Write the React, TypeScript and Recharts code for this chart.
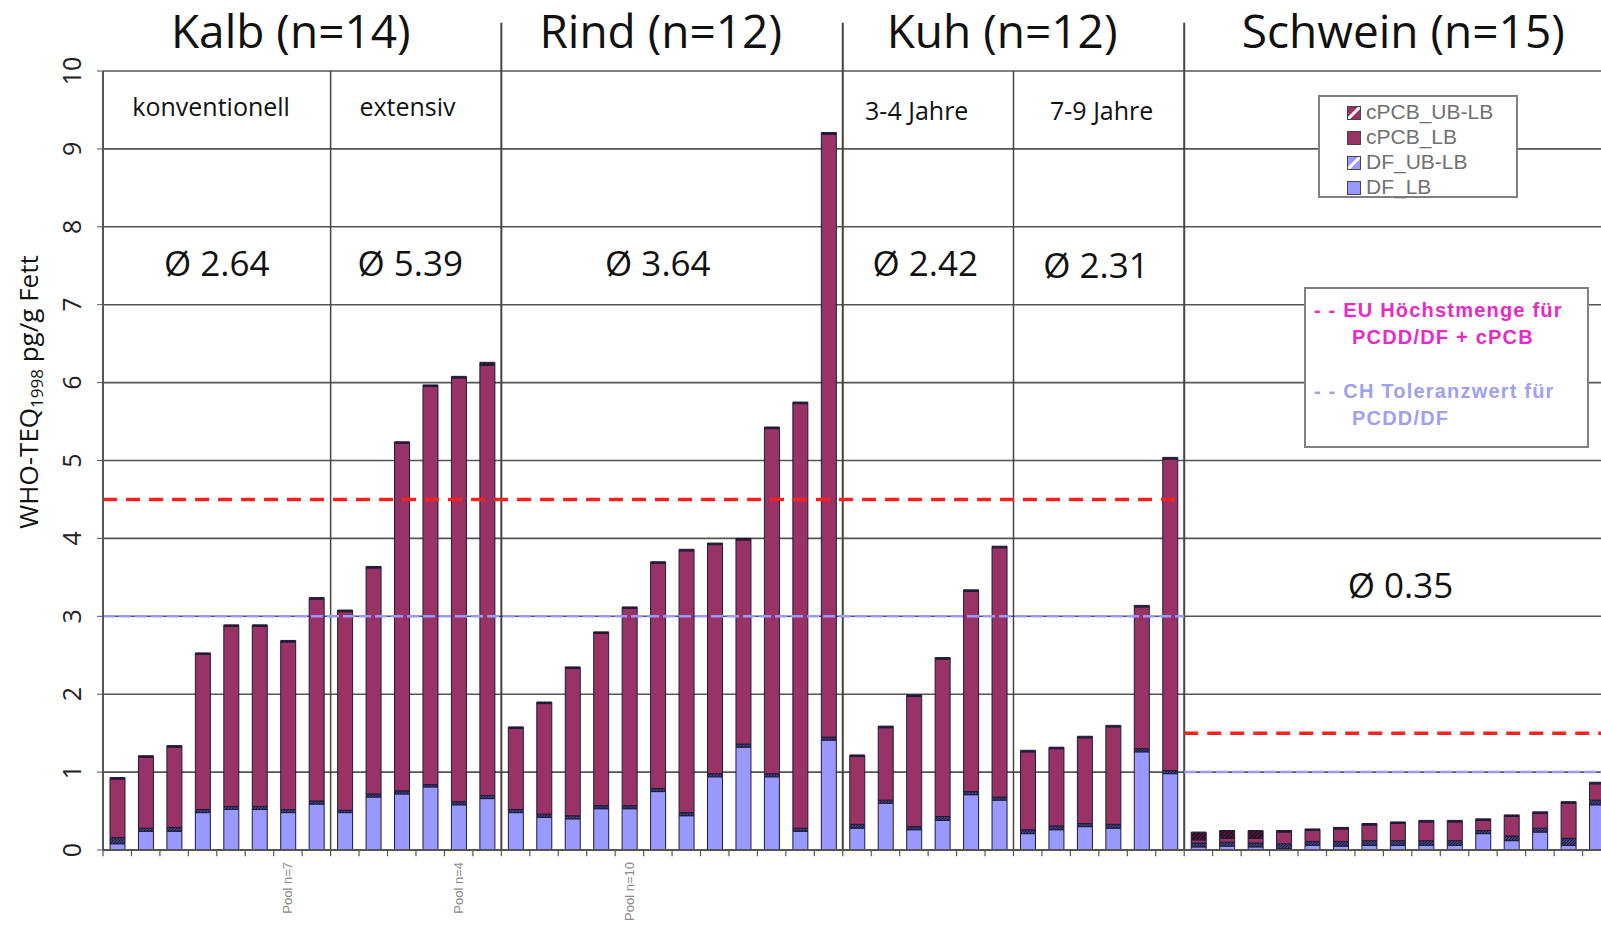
import {
  Bar,
  BarChart,
  CartesianGrid,
  ReferenceDot,
  ReferenceLine,
  XAxis,
  YAxis,
} from "recharts";

// values per sample (pg/g Fett), order: Kalb konv. (8), Kalb ext. (6), Rind (12), Kuh 3-4 J. (6), Kuh 7-9 J. (6), Schwein (15)
const dfLb = [
  0.08, 0.24, 0.24, 0.48, 0.52, 0.52, 0.48, 0.59,
  0.48, 0.68, 0.72, 0.81, 0.58, 0.66,
  0.48, 0.42, 0.4, 0.53, 0.53, 0.75, 0.44, 0.94, 1.32, 0.94, 0.24, 1.41,
  0.28, 0.6, 0.26, 0.38, 0.71, 0.64,
  0.21, 0.26, 0.3, 0.28, 1.26, 0.98,
  0.04, 0.05, 0.04, 0.02, 0.06, 0.05, 0.06, 0.06, 0.06, 0.06, 0.21, 0.12, 0.23, 0.06, 0.58,
];
const dfUb = [
  0.08, 0.04, 0.05, 0.04, 0.04, 0.04, 0.04, 0.04,
  0.03, 0.04, 0.04, 0.03, 0.04, 0.04,
  0.04, 0.04, 0.04, 0.04, 0.04, 0.04, 0.04, 0.04, 0.04, 0.04, 0.04, 0.04,
  0.05, 0.04, 0.04, 0.05, 0.04, 0.04,
  0.05, 0.05, 0.04, 0.05, 0.04, 0.04,
  0.05, 0.05, 0.05, 0.06, 0.05, 0.06, 0.06, 0.06, 0.06, 0.06, 0.04, 0.06, 0.05, 0.09, 0.06,
];
const pcbLb = [
  0.75, 0.91, 1.03, 1.99, 2.31, 2.31, 2.15, 2.59,
  2.55, 2.9, 4.46, 5.11, 5.44, 5.52,
  1.04, 1.42, 1.89, 2.21, 2.53, 2.89, 3.36, 2.94, 2.62, 4.43, 5.45, 7.74,
  0.87, 0.93, 1.67, 2.02, 2.57, 3.2,
  1.0, 0.99, 1.1, 1.25, 1.82, 4.0,
  0.04, 0.05, 0.06, 0.15, 0.14, 0.16, 0.2, 0.22, 0.24, 0.24, 0.13, 0.25, 0.19, 0.45, 0.21,
];
const pcbUb = [
  0.02, 0.02, 0.02, 0.02, 0.02, 0.02, 0.02, 0.02,
  0.02, 0.02, 0.02, 0.02, 0.02, 0.04,
  0.02, 0.02, 0.02, 0.02, 0.02, 0.02, 0.02, 0.02, 0.02, 0.02, 0.02, 0.02,
  0.02, 0.02, 0.02, 0.02, 0.02, 0.02,
  0.02, 0.02, 0.02, 0.02, 0.02, 0.02,
  0.1, 0.1, 0.1, 0.02, 0.02, 0.02, 0.02, 0.02, 0.02, 0.02, 0.02, 0.02, 0.02, 0.02, 0.02,
];

const yTicks = [0, 1, 2, 3, 4, 5, 6, 7, 8, 9, 10];

// pooled samples (1-based sample number) and their axis labels
const poolAt = ["7", "13", "19"];
const poolText = ["Pool n=7", "Pool n=4", "Pool n=10"];

// dividers: drawn at the end of these samples
const groupEnds = ["14", "26", "38"];
const subEnds = ["8", "32"];
// limit lines: beef (samples 1-38) and pork (39-53)
const limitFrom = ["1", "38"];
const limitTo = ["39", "53"];
const limitPos = ["start", "end"];
const euLimit = [4.5, 1.5];
const chLimit = [3, 1];

// annotations, x in sample units from the left edge of the plot
const groupTitles = ["Kalb (n=14)", "Rind (n=12)", "Kuh (n=12)", "Schwein (n=15)"];
const groupTitleX = [6.6, 19.6, 31.6, 45.7];
const subLabels = ["konventionell", "extensiv", "3-4 Jahre", "7-9 Jahre"];
const subLabelX = [3.8, 10.7, 28.6, 35.1];
const subLabelY = [9.55, 9.55, 9.5, 9.5];
const means = ["Ø 2.64", "Ø 5.39", "Ø 3.64", "Ø 2.42", "Ø 2.31", "Ø 0.35"];
const meanX = [4.0, 10.8, 19.5, 28.9, 34.9, 45.6];
const meanY = [7.54, 7.54, 7.54, 7.54, 7.52, 3.41];

const MAROON = "#993366";
const LAVENDER = "#9999ff";
const EDGE = "#1c1c3a";

const CHART_W = 1620;
const AXIS_W = 103;
const RIGHT = 9;
const STEP = (CHART_W - AXIS_W - RIGHT) / dfLb.length;

function YTick({ x, y, payload }: any) {
  const cx = x - 24;
  return (
    <text
      x={cx}
      y={y}
      transform={`rotate(-90, ${cx}, ${y})`}
      textAnchor="middle"
      dominantBaseline="central"
      fontSize={25}
      fill="#222"
    >
      {payload.value}
    </text>
  );
}

function PoolTick({ x, y, payload }: any) {
  const i = poolAt.indexOf(String(payload.value));
  if (i < 0) return <g />;
  const ty = y + 4;
  return (
    <text
      x={x}
      y={ty}
      transform={`rotate(-90, ${x}, ${ty})`}
      textAnchor="end"
      dominantBaseline="central"
      fontSize={13}
      fill="#8a8a8a"
      fontFamily="'Liberation Sans', Arial, sans-serif"
    >
      {poolText[i]}
    </text>
  );
}

function note(key: string, text: string, pos: number, y: number, size: number) {
  const k = Math.min(dfLb.length - 1, Math.floor(pos));
  const dx = (pos - k - 0.5) * STEP;
  return (
    <ReferenceDot
      key={key}
      xAxisId="cat"
      x={String(k + 1)}
      y={y}
      r={0}
      fill="none"
      stroke="none"
      ifOverflow="visible"
      label={(p: any) => (
        <text
          x={p.viewBox.x + p.viewBox.width / 2 + dx}
          y={p.viewBox.y + p.viewBox.height / 2}
          textAnchor="middle"
          dominantBaseline="central"
          fontSize={size}
          fill="#111"
        >
          {text}
        </text>
      )}
    />
  );
}

const swatch = (bg: string) => ({
  display: "inline-block",
  width: 12,
  height: 12,
  border: "1px solid #444",
  background: bg,
  marginRight: 5,
  verticalAlign: "-1px",
});

export default function App() {
  const rows = dfLb.map((v, i) => ({
    id: String(i + 1),
    dfLb: v,
    dfUb: dfUb[i],
    pcbLb: pcbLb[i],
    pcbUb: pcbUb[i],
  }));
  const last = rows[rows.length - 1].id;

  return (
    <div
      style={{
        position: "absolute",
        left: 0,
        top: 0,
        width: 1601,
        height: 929,
        overflow: "hidden",
        background: "#fff",
        fontFamily: "'Open Sans', sans-serif",
      }}
    >
      <BarChart
        width={CHART_W}
        height={929}
        data={rows}
        margin={{ top: 71, right: RIGHT, bottom: 0, left: 0 }}
        barSize={15}
      >
        <defs>
          <pattern id="hatchDf" patternUnits="userSpaceOnUse" width="3" height="3">
            <rect width="3" height="3" fill="#d8d8ff" />
            <path d="M-1,1 l2,-2 M0,3 l3,-3 M2,4 l2,-2" stroke="#1a1a4a" strokeWidth="1.9" />
          </pattern>
          <pattern id="hatchPcb" patternUnits="userSpaceOnUse" width="4" height="4">
            <rect width="4" height="4" fill="#5a1a40" />
            <path d="M-1,1 l2,-2 M0,4 l4,-4 M3,5 l2,-2" stroke="#1a0a1a" strokeWidth="1.4" />
          </pattern>
        </defs>
        <CartesianGrid xAxisId="cat" vertical={false} stroke="#555" strokeWidth={1.6} />
        <XAxis
          xAxisId="cat"
          dataKey="id"
          height={79}
          interval={0}
          axisLine={{ stroke: "#555", strokeWidth: 2 }}
          tickLine={false}
          tick={<PoolTick />}
        />
        <YAxis
          domain={[0, 10]}
          ticks={yTicks}
          width={AXIS_W}
          axisLine={{ stroke: "#555", strokeWidth: 2 }}
          tickLine={{ stroke: "#555" }}
          tickSize={6}
          tick={<YTick />}
        />
        <Bar xAxisId="cat" dataKey="dfLb" stackId="a" fill={LAVENDER} stroke={EDGE} isAnimationActive={false} />
        <Bar xAxisId="cat" dataKey="dfUb" stackId="a" fill="url(#hatchDf)" stroke={EDGE} isAnimationActive={false} />
        <Bar xAxisId="cat" dataKey="pcbLb" stackId="a" fill={MAROON} stroke={EDGE} isAnimationActive={false} />
        <Bar xAxisId="cat" dataKey="pcbUb" stackId="a" fill="url(#hatchPcb)" stroke={EDGE} isAnimationActive={false} />

        {rows.map((r) => (
          <ReferenceLine
            key={`t${r.id}`}
            xAxisId="cat"
            position="start"
            segment={[
              { x: r.id, y: 0 },
              { x: r.id, y: -0.08 },
            ]}
            stroke="#555"
            strokeWidth={1.2}
            ifOverflow="visible"
          />
        ))}
        <ReferenceLine
          xAxisId="cat"
          position="end"
          segment={[
            { x: last, y: 0 },
            { x: last, y: -0.08 },
          ]}
          stroke="#555"
          strokeWidth={1.2}
          ifOverflow="visible"
        />
        {groupEnds.map((b) => (
          <ReferenceLine
            key={`g${b}`}
            xAxisId="cat"
            position="end"
            segment={[
              { x: b, y: 0 },
              { x: b, y: 10.62 },
            ]}
            stroke="#444"
            strokeWidth={2}
            ifOverflow="visible"
          />
        ))}
        {subEnds.map((b) => (
          <ReferenceLine
            key={`s${b}`}
            xAxisId="cat"
            position="end"
            segment={[
              { x: b, y: 0 },
              { x: b, y: 10 },
            ]}
            stroke="#444"
            strokeWidth={1.5}
            ifOverflow="visible"
          />
        ))}
        {limitFrom.map((a, i) => (
          <ReferenceLine
            key={`ch${i}`}
            xAxisId="cat"
            position={limitPos[i] as any}
            segment={[
              { x: a, y: chLimit[i] },
              { x: limitTo[i], y: chLimit[i] },
            ]}
            stroke={LAVENDER}
            strokeWidth={2.5}
            strokeDasharray="12 4"
            ifOverflow="visible"
          />
        ))}
        {limitFrom.map((a, i) => (
          <ReferenceLine
            key={`eu${i}`}
            xAxisId="cat"
            position={limitPos[i] as any}
            segment={[
              { x: a, y: euLimit[i] },
              { x: limitTo[i], y: euLimit[i] },
            ]}
            stroke="#ff2020"
            strokeWidth={3.5}
            strokeDasharray="14 9"
            ifOverflow="visible"
          />
        ))}

        {groupTitles.map((t, i) => note(`gt${i}`, t, groupTitleX[i], 10.53, 46))}
        {subLabels.map((t, i) => note(`sl${i}`, t, subLabelX[i], subLabelY[i], 25))}
        {means.map((t, i) => note(`m${i}`, t, meanX[i], meanY[i], 35))}
      </BarChart>

      <div
        style={{
          position: "absolute",
          left: 29,
          top: 392,
          transform: "translate(-50%, -50%) rotate(-90deg)",
          whiteSpace: "nowrap",
          fontSize: 26,
          color: "#111",
        }}
      >
        WHO-TEQ<sub style={{ fontSize: 17, verticalAlign: "-5px" }}>1998</sub> pg/g Fett
      </div>

      <div
        style={{
          position: "absolute",
          left: 1318,
          top: 95,
          width: 200,
          height: 103,
          border: "2px solid #808080",
          background: "#fff",
          fontFamily: "'Liberation Sans', Arial, sans-serif",
          fontSize: 21,
          lineHeight: "25px",
          color: "#707070",
          paddingTop: 2,
          paddingLeft: 27,
          boxSizing: "border-box",
          whiteSpace: "nowrap",
        }}
      >
        <div>
          <span style={swatch(`linear-gradient(135deg, ${MAROON} 38%, #fff 44%, #fff 56%, ${MAROON} 62%)`)} />
          cPCB_UB-LB
        </div>
        <div>
          <span style={swatch(MAROON)} />
          cPCB_LB
        </div>
        <div>
          <span style={swatch(`linear-gradient(135deg, ${LAVENDER} 38%, #fff 44%, #fff 56%, ${LAVENDER} 62%)`)} />
          DF_UB-LB
        </div>
        <div>
          <span style={swatch(LAVENDER)} />
          DF_LB
        </div>
      </div>

      <div
        style={{
          position: "absolute",
          left: 1304,
          top: 287,
          width: 285,
          height: 161,
          border: "2px solid #808080",
          background: "#fff",
          fontFamily: "'Liberation Sans', Arial, sans-serif",
          fontSize: 20,
          letterSpacing: 1.2,
          fontWeight: "bold",
          lineHeight: "27px",
          paddingTop: 8,
          paddingLeft: 8,
          boxSizing: "border-box",
          whiteSpace: "nowrap",
        }}
      >
        <div style={{ color: "#e62bc8" }}>- - EU Höchstmenge für</div>
        <div style={{ color: "#e62bc8", paddingLeft: 38 }}>PCDD/DF + cPCB</div>
        <div style={{ color: "#a0a0f0", marginTop: 27 }}>- - CH Toleranzwert für</div>
        <div style={{ color: "#a0a0f0", paddingLeft: 38 }}>PCDD/DF</div>
      </div>
    </div>
  );
}
